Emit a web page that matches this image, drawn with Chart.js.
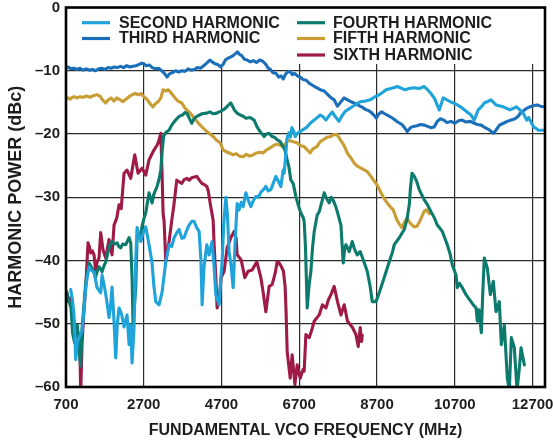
<!DOCTYPE html>
<html>
<head>
<meta charset="utf-8">
<script src="https://cdn.jsdelivr.net/npm/chart.js@4/dist/chart.umd.min.js"></script>
<style>
  html, body { margin: 0; padding: 0; background: #fff; }
  #wrap { width: 553px; height: 444px; }
</style>
</head>
<body>
<div id="wrap"><canvas id="c" width="553" height="444"></canvas></div>
<script>
// Axis ticks
const freqTicks = [700, 2700, 4700, 6700, 8700, 10700, 12700];
const powerTicks = [0, -10, -20, -30, -40, -50, -60];

// Series names
const seriesNames = ['SECOND HARMONIC', 'THIRD HARMONIC', 'FOURTH HARMONIC', 'FIFTH HARMONIC', 'SIXTH HARMONIC'];

// Second harmonic (MHz, dBc)
const secondMHz = [820,860,906,950,990,1035,1112,1160,1207,1250,1292,1340,1421,1498,1593,1627,1678,1740,1807,1850,1884,1930,1979,2020,2064,2130,2193,2270,2322,2365,2399,2450,2494,2528,2580,2623,2690,2751,2836,2914,2960,3009,3094,3171,3220,3266,3351,3420,3480,3550,3609,3680,3737,3807,3866,3935,3995,4060,4123,4170,4201,4250,4322,4381,4458,4510,4553,4638,4680,4715,4760,4811,4850,4896,4950,4999,5050,5102,5150,5205,5256,5326,5390,5454,5520,5583,5650,5712,5780,5840,5900,5969,6030,6098,6165,6226,6286,6311,6350,6381,6430,6470,6510,6560,6595,6650,6723,6800,6880,6981,7084,7160,7238,7300,7385,7470,7547,7620,7720,7790,7870,7960,8062,8160,8268,8400,8525,8650,8757,8850,8930,9050,9170,9212,9300,9420,9530,9650,9786,9915,10000,10087,10180,10300,10400,10500,10584,10700,10765,10890,10950,11117,11200,11300,11400,11459,11632,11760,11948,12120,12290,12460,12550,12600,12720,12850,12980];
const secondDbc = [-44.6,-46,-48.6,-55.7,-53,-52.2,-51.2,-48,-44.3,-42.5,-41,-41.5,-41.8,-44.3,-45.1,-42.3,-43.8,-46,-49,-47,-44.2,-49,-55.4,-50,-47.5,-48.5,-50.5,-48.6,-53.3,-50.2,-56.2,-50.6,-39.9,-34.8,-36,-37,-35.5,-34.7,-37.5,-40.4,-44,-46.5,-47,-45,-42.5,-40.2,-37.5,-37.8,-36.4,-35.6,-35.1,-36.5,-36.4,-35.2,-34.4,-33.8,-33.8,-34.8,-35.4,-40,-47,-41,-37.5,-39.1,-37,-41,-45.4,-47,-43,-40.2,-34,-30,-32.5,-38.6,-41,-44.3,-37,-31,-32,-30.8,-31.5,-29.3,-30.5,-31.5,-30.5,-29.9,-30,-29.2,-28.8,-28.3,-29,-28.8,-27.8,-26.7,-27.5,-28.3,-25.7,-26.2,-23.5,-20.8,-19.8,-20.5,-19.0,-19.6,-20.4,-19.9,-19.6,-19.3,-19.0,-18.3,-17.8,-17.4,-17.0,-17.2,-17.8,-17.1,-16.5,-17.2,-18.0,-17.2,-16.5,-16.1,-15.7,-15.3,-14.9,-14.8,-14.6,-14.1,-13.8,-13.4,-13.0,-12.8,-12.6,-12.5,-12.7,-13.0,-12.8,-12.7,-12.8,-12.5,-13.0,-13.6,-14.4,-16.2,-14.3,-14.6,-14.9,-15.2,-15.4,-15.9,-16.2,-17.0,-17.8,-16.2,-15.6,-15.1,-14.6,-15.4,-15.7,-16.2,-15.7,-16.7,-17.8,-17.4,-18.8,-19.4,-19.4];

// Third harmonic (MHz, dBc)
const thirdMHz = [700,760,820,900,980,1060,1140,1220,1300,1380,1460,1540,1620,1700,1780,1860,1940,2020,2100,2180,2260,2340,2420,2500,2580,2650,2700,2760,2840,2920,3000,3080,3160,3230,3300,3360,3440,3520,3600,3680,3760,3840,3920,4000,4080,4160,4240,4320,4400,4460,4530,4600,4670,4740,4800,4870,4940,5000,5060,5110,5160,5220,5290,5360,5440,5520,5600,5680,5760,5840,5900,5960,6020,6100,6170,6230,6290,6340,6400,6460,6520,6580,6650,6720,6800,6880,6960,7040,7120,7240,7340,7440,7520,7600,7680,7760,7850,7940,8030,8110,8200,8300,8400,8480,8550,8620,8680,8750,8820,8900,9020,9120,9230,9340,9420,9480,9560,9640,9730,9820,9915,10000,10080,10170,10250,10330,10420,10500,10600,10700,10800,10890,10980,11100,11200,11280,11380,11480,11580,11690,11760,11850,11950,12050,12150,12250,12330,12400,12490,12560,12640,12730,12820,12900,12980];
const thirdDbc = [-9.6,-9.4,-9.7,-9.6,-9.8,-9.6,-9.9,-9.7,-9.9,-9.8,-10.0,-9.7,-9.6,-9.8,-9.5,-9.6,-9.4,-9.5,-9.3,-9.5,-9.2,-9.4,-9.3,-9.2,-9.0,-8.8,-8.9,-9.2,-9.1,-9.5,-9.7,-9.6,-10.0,-10.4,-11.0,-10.5,-10.3,-10.0,-10.2,-10.0,-10.1,-9.7,-9.9,-9.8,-9.5,-9.6,-9.2,-8.8,-8.3,-8.6,-8.9,-9.0,-9.4,-9.0,-8.3,-8.0,-7.8,-7.6,-7.3,-7.0,-7.4,-7.6,-8.2,-8.3,-8.6,-8.4,-8.7,-8.3,-8.5,-9.0,-9.6,-9.8,-10.3,-10.4,-11.0,-10.8,-11.3,-10.6,-10.2,-10.1,-10.6,-10.4,-10.8,-11.0,-11.4,-11.5,-12.0,-12.3,-12.6,-13.0,-13.2,-13.8,-14.3,-14.6,-15.6,-15.0,-14.3,-14.6,-14.9,-15.1,-15.4,-15.7,-16.1,-16.3,-16.6,-17.0,-17.5,-16.8,-16.5,-16.8,-17.2,-17.6,-18.1,-18.5,-19.1,-19.6,-19.0,-18.8,-18.7,-18.5,-18.6,-18.8,-19.0,-18.9,-18.0,-17.6,-17.8,-18.2,-18.0,-18.3,-17.9,-17.8,-18.1,-18.0,-18.3,-18.5,-18.6,-19.0,-19.3,-19.9,-19.4,-18.6,-18.3,-18.0,-17.8,-17.6,-17.2,-16.6,-16.2,-15.9,-15.7,-15.5,-15.4,-15.6,-15.7];

// Fourth harmonic (MHz, dBc)
const fourthMHz = [720,780,830,870,920,960,990,1020,1050,1078,1110,1150,1200,1240,1274,1292,1330,1369,1420,1464,1500,1549,1590,1627,1680,1722,1770,1807,1850,1884,1950,2013,2060,2108,2160,2237,2290,2322,2365,2400,2425,2460,2494,2528,2580,2623,2660,2708,2751,2785,2836,2880,2914,2960,3042,3100,3138,3170,3210,3248,3300,3351,3400,3454,3520,3580,3640,3700,3760,3807,3870,3935,3990,4064,4130,4200,4322,4400,4480,4580,4680,4741,4820,4900,4939,4999,5030,5102,5180,5256,5330,5436,5539,5609,5668,5730,5797,5860,5925,6000,6060,6131,6208,6286,6330,6389,6430,6484,6543,6613,6700,6741,6800,6826,6860,6904,6950,6999,7040,7084,7161,7212,7260,7341,7400,7470,7520,7573,7640,7683,7771,7830,7870,7900,7984,8062,8120,8190,8268,8340,8448,8520,8577,8673,8757,8885,9014,9100,9143,9271,9400,9470,9529,9560,9600,9650,9720,9786,9850,9915,10000,10087,10170,10250,10378,10507,10580,10636,10731,10765,10820,10893,10988,11117,11200,11246,11279,11320,11382,11420,11459,11536,11614,11691,11760,11845,11897,11974,12051,12103,12154,12231,12301,12360,12404,12489];
const fourthDbc = [-45.0,-46.5,-47.5,-51.5,-53,-51,-50.2,-52,-55,-56.7,-51,-48,-44,-42,-41.5,-40.4,-40.8,-41.2,-42,-42.6,-41.8,-41,-41.3,-41.8,-40.8,-40.2,-39,-38,-37.3,-37,-37.4,-37.2,-37.8,-38,-37.4,-37.5,-36.8,-36.4,-37.2,-43,-50.2,-47,-44.3,-36.4,-36.2,-35.9,-34.5,-33.3,-32.5,-31.2,-29.3,-30.2,-30.9,-29.5,-28.3,-27,-25.7,-23,-20.4,-19.9,-19.6,-19.4,-18.8,-18.3,-17.8,-17.4,-17.1,-17.0,-16.6,-16.7,-17.5,-18.3,-17.6,-17.2,-17.0,-16.8,-16.7,-16.5,-16.8,-16.7,-16.4,-16.2,-15.8,-15.3,-15.1,-15.8,-16.2,-16.7,-17.0,-17.2,-17.5,-17.4,-17.8,-18.8,-19.4,-19.9,-20.4,-20.0,-19.9,-20.4,-20.5,-20.9,-21.2,-22.0,-22.5,-24.1,-25.1,-27.3,-27.8,-29.9,-31.8,-32.5,-33.2,-33.8,-38,-47.5,-44,-41.7,-38,-35.4,-32.8,-32.3,-31.2,-29.3,-30.2,-30.9,-30.0,-30.5,-31.5,-32.4,-34.4,-40.4,-38,-37.5,-38.6,-37.0,-38.2,-39.1,-38.6,-39.8,-41.7,-44,-46.5,-46.5,-45.1,-42.7,-40.2,-38.6,-37.5,-36.4,-35.1,-33.5,-31.2,-28.5,-26.2,-26.6,-27.5,-28.8,-29.6,-30.4,-31.2,-32.3,-33.2,-34.4,-35.4,-37.5,-39,-40.7,-42.3,-44.3,-43.6,-44.3,-45.4,-46.5,-47.2,-47.5,-49.6,-47.8,-51.4,-45,-39.6,-41.2,-45.4,-43.3,-48.1,-46.5,-53.3,-50.2,-58.6,-60.5,-52.2,-53.8,-60.5,-57,-53.8,-56.5];

// Fifth harmonic (MHz, dBc)
const fifthMHz = [700,760,803,860,920,980,1060,1140,1220,1318,1420,1500,1575,1640,1720,1790,1860,1930,2005,2090,2160,2240,2322,2400,2480,2560,2630,2700,2780,2860,2939,3000,3068,3140,3197,3260,3330,3377,3440,3506,3580,3678,3760,3892,3980,4064,4150,4250,4322,4400,4484,4560,4664,4741,4820,4900,4999,5080,5160,5256,5340,5420,5513,5600,5700,5771,5860,5951,6040,6131,6208,6286,6381,6450,6520,6638,6723,6826,6904,6981,7040,7153,7240,7315,7420,7514,7573,7675,7753,7850,7933,8030,8113,8200,8286,8380,8440,8543,8610,8673,8757,8800,8880,8962,9040,9117,9212,9271,9341,9420,9470,9540,9598,9660,9727,9800,9856,9915,9970,10044];
const fifthDbc = [-14.5,-14.3,-14.5,-14.2,-14.1,-14.3,-14.1,-14.2,-14.0,-14.2,-13.9,-13.8,-14.0,-14.6,-15.1,-14.6,-14.3,-14.8,-14.3,-14.6,-14.9,-14.5,-14.1,-13.8,-13.6,-13.8,-13.6,-14.1,-14.5,-15.2,-15.7,-15.2,-14.9,-14.3,-13.0,-13.2,-13.0,-13.3,-13.8,-14.3,-14.8,-15.1,-15.9,-16.7,-17.3,-18.0,-18.6,-19.2,-19.6,-20.0,-20.4,-20.9,-21.4,-22.5,-22.8,-23.0,-23.3,-23.1,-23.5,-23.6,-23.2,-23.5,-23.3,-23.0,-22.9,-23.0,-22.5,-22.2,-21.8,-21.6,-21.8,-22.0,-21.2,-21.0,-21.2,-21.4,-21.8,-22.0,-22.5,-23.0,-22.4,-22.0,-21.2,-20.9,-20.5,-20.4,-20.1,-20.1,-20.9,-21.8,-23.0,-23.8,-24.6,-25.1,-25.4,-25.7,-25.9,-26.7,-27.3,-27.8,-28.7,-29.3,-30.2,-30.9,-31.5,-32.0,-33.6,-34.2,-34.8,-33.8,-33.3,-34.0,-34.4,-34.7,-34.6,-33.8,-33.0,-32.2,-32.0,-32.6];

// Sixth harmonic (MHz, dBc)
const sixthMHz = [720,760,821,870,906,983,1035,1060,1078,1112,1160,1207,1266,1300,1336,1380,1421,1464,1500,1549,1593,1652,1722,1807,1884,1936,2005,2064,2120,2193,2270,2365,2420,2468,2553,2656,2751,2836,2965,3050,3100,3138,3170,3197,3223,3266,3351,3428,3470,3549,3620,3678,3740,3807,3870,3935,4000,4064,4130,4193,4260,4322,4360,4407,4484,4510,4553,4587,4638,4690,4767,4844,4939,5024,5076,5102,5205,5300,5385,5488,5609,5712,5770,5840,5925,6002,6080,6131,6165,6234,6293,6337,6360,6389,6466,6517,6587,6646,6723,6800,6826,6870,6955,7020,7084,7212,7297,7385,7450,7514,7598,7683,7771,7856,7941,8069,8157,8216,8268,8301,8319];
const sixthDbc = [-45.0,-46.5,-45.9,-48,-49.9,-50.9,-52.2,-55,-61,-53.3,-48,-44.3,-37.2,-37.8,-38.8,-38.5,-39.1,-41.8,-40.2,-39.6,-35.6,-38.3,-39.6,-36.7,-39.1,-34.4,-33.3,-31.2,-31.8,-26.2,-25.7,-27.0,-25,-23.3,-26.2,-25.4,-26.5,-24.1,-22.5,-21.7,-20.8,-19.9,-26,-32.5,-33.8,-40.2,-37.0,-33.3,-31.5,-27.3,-27.6,-27.8,-27.2,-27.0,-27.3,-26.9,-26.8,-26.7,-27.3,-27.8,-28.0,-28.3,-29,-30.9,-33.6,-37.5,-42.7,-47.5,-46.5,-42.7,-41.7,-38.0,-36.4,-35.4,-36.5,-39.1,-39.9,-42.7,-41.7,-41.5,-40.2,-42.7,-45,-48.1,-44.1,-43.8,-42,-40.2,-40.2,-40.9,-41.7,-44.2,-48,-54.4,-58.6,-54.9,-59.6,-56.5,-58.6,-57.2,-57.5,-51.7,-52.2,-51,-49.6,-48.6,-47,-47.5,-46.2,-45.4,-44.1,-46.5,-48.6,-47,-49.6,-50.6,-51.7,-53.6,-50.6,-52.8,-51.8];

const seriesColors = ['#1ea3da', '#1b6fb8', '#0c7a6d', '#c99d33', '#9e1b47'];

const pairs = (xs, ys) => xs.map((x, i) => ({ x: x, y: ys[i] }));
const seriesData = [
  pairs(secondMHz, secondDbc),
  pairs(thirdMHz, thirdDbc),
  pairs(fourthMHz, fourthDbc),
  pairs(fifthMHz, fifthDbc),
  pairs(sixthMHz, sixthDbc)
];

const FONT = '"Liberation Sans", Arial, Helvetica, sans-serif';
const INK = '#1d1d1b';

// Frame, in-plot legend and axis titles
const decor = {
  id: 'decor',
  beforeDatasetsDraw(chart) {
    const { ctx, chartArea: a } = chart;
    // clear the grid behind the legend block
    ctx.save();
    ctx.fillStyle = '#fff';
    ctx.fillRect(a.left + 1, a.top + 1, a.right - a.left - 2, 64 - a.top - 1);
    ctx.restore();
  },
  afterDraw(chart) {
    const { ctx, chartArea: a } = chart;
    ctx.save();
    // plot frame
    ctx.strokeStyle = '#000';
    ctx.lineWidth = 2.6;
    ctx.strokeRect(a.left, a.top, a.right - a.left, a.bottom - a.top);

    // legend
    const cols = [
      { x0: 82, x1: 110, tx: 119, items: [0, 1] },
      { x0: 297, x1: 325, tx: 333, items: [2, 3, 4] }
    ];
    const rows = [22.7, 38.5, 55];
    ctx.font = 'bold 16px ' + FONT;
    ctx.textBaseline = 'middle';
    ctx.textAlign = 'left';
    cols.forEach(c => {
      c.items.forEach((s, r) => {
        const y = rows[r];
        ctx.strokeStyle = seriesColors[s];
        ctx.lineWidth = 3.2;
        ctx.beginPath();
        ctx.moveTo(c.x0, y);
        ctx.lineTo(c.x1, y);
        ctx.stroke();
        ctx.fillStyle = INK;
        ctx.fillText(seriesNames[s], c.tx, y + 0.5);
      });
    });

    // axis titles
    ctx.fillStyle = INK;
    ctx.textAlign = 'center';
    ctx.textBaseline = 'middle';
    ctx.font = 'bold 16px ' + FONT;
    ctx.fillText('FUNDAMENTAL VCO FREQUENCY (MHz)', (a.left + a.right) / 2, 431);
    ctx.font = 'bold 18px ' + FONT;
    ctx.translate(16, (a.top + a.bottom) / 2);
    ctx.rotate(-Math.PI / 2);
    ctx.fillText('HARMONIC POWER (dBc)', 0, 0);
    ctx.restore();
  }
};

Chart.defaults.font.family = FONT;
Chart.defaults.font.weight = 'bold';
Chart.defaults.font.size = 15;
Chart.defaults.color = INK;

new Chart(document.getElementById('c'), {
  type: 'line',
  data: {
    datasets: seriesData.map((d, i) => ({
      label: seriesNames[i],
      data: d,
      borderColor: seriesColors[i],
      backgroundColor: seriesColors[i],
      borderWidth: 3.1,
      pointRadius: 0,
      tension: 0,
      borderJoinStyle: 'round',
      borderCapStyle: 'round',
      fill: false
    }))
  },
  options: {
    responsive: false,
    animation: false,
    events: [],
    layout: { padding: { top: 7.5, right: 8, left: 0, bottom: 0 } },
    plugins: { legend: { display: false }, tooltip: { enabled: false } },
    scales: {
      x: {
        type: 'linear',
        min: 700,
        max: 13020,
        afterBuildTicks: s => { s.ticks = freqTicks.map(v => ({ value: v })); },
        afterFit: s => { s.height = 57; s.paddingLeft = 0; s.paddingRight = 0; },
        ticks: { padding: 9, maxRotation: 0, autoSkip: false, font: { size: 15, weight: 'bold' }, callback: v => String(v) },
        grid: { color: '#2b2b2b', lineWidth: 1.2, drawTicks: false },
        border: { display: false }
      },
      y: {
        min: -60,
        max: 0,
        afterBuildTicks: s => { s.ticks = powerTicks.map(v => ({ value: v })); },
        afterFit: s => { s.width = 66; s.paddingTop = 0; s.paddingBottom = 0; },
        ticks: { padding: 6, font: { size: 15, weight: 'bold' }, callback: v => (v === 0 ? '0' : '\u2013' + Math.abs(v)) },
        grid: { color: '#2b2b2b', lineWidth: 1.2, drawTicks: false },
        border: { display: false }
      }
    }
  },
  plugins: [decor]
});
</script>
</body>
</html>
